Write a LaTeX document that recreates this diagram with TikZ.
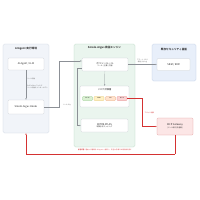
\documentclass[tikz,border=0pt]{standalone}
\usepackage{fontspec}
\setmainfont{Noto Sans CJK JP}[BoldFont={Noto Sans CJK JP Bold}]
\usetikzlibrary{arrows.meta, calc, positioning}
\definecolor{envFill}{RGB}{241,244,249}
\definecolor{envLine}{RGB}{200,208,220}
\definecolor{engFill}{RGB}{234,245,238}
\definecolor{engLine}{RGB}{176,212,188}
\definecolor{secFill}{RGB}{232,239,250}
\definecolor{secLine}{RGB}{182,198,224}
\definecolor{boxLine}{RGB}{200,204,210}
\definecolor{gwFill}{RGB}{252,230,230}
\definecolor{gwLine}{RGB}{226,150,150}
\definecolor{lineGray}{RGB}{140,144,150}
\definecolor{alertRed}{RGB}{212,50,50}
\definecolor{chipGreenF}{RGB}{218,240,210}
\definecolor{chipGreenD}{RGB}{140,196,130}
\definecolor{chipYellowF}{RGB}{255,240,196}
\definecolor{chipYellowD}{RGB}{222,190,90}
\definecolor{chipOrangeF}{RGB}{255,226,204}
\definecolor{chipOrangeD}{RGB}{230,160,110}
\definecolor{chipPinkF}{RGB}{250,210,210}
\definecolor{chipPinkD}{RGB}{222,120,120}

\begin{document}
\begin{tikzpicture}[x=1mm, y=-1mm,
    panel/.style={rounded corners=1.5mm, line width=0.7pt},
    box/.style={draw=boxLine, fill=white, rounded corners=1mm, line width=0.7pt,
        align=center, text=black!85, font=\fontsize{7}{8.5}\selectfont},
    title/.style={text=black!85, font=\fontsize{7.5}{9}\selectfont\bfseries},
    note/.style={text=black!65, align=left, font=\fontsize{4.5}{5.5}\selectfont},
    chip/.style={rounded corners=0.8mm, line width=0.6pt, minimum width=10mm,
        minimum height=4mm, inner sep=0pt, font=\fontsize{3.5}{4}\selectfont},
    flow/.style={draw=lineGray, line width=0.6pt, -{Latex[length=1.6mm,width=1.3mm]}},
    redflow/.style={draw=alertRed, line width=0.6pt, -{Latex[length=1.6mm,width=1.3mm]}}]
    \useasboundingbox (0,0) rectangle (200,200);

    % AI Agent 実行環境 (左)
    \node[panel, fill=envFill, draw=envLine, minimum width=46mm, minimum height=89mm] (agentenv) at (26,88.5) {};
    \node[title] (agenttitle) at (26,48.5) {AI Agent 実行環境};
    \node[box, minimum width=36mm, minimum height=12mm] (agent) at (26,64) {AI Agent / LLM};
    \node[box, minimum width=36mm, minimum height=14mm] (hooks) at (26,107) {Smolo-Argus Hooks};
    \draw[flow] (agent) -- (hooks)
        node[note, pos=0.28, right] {ツール呼出}
        node[note, pos=0.55, right] {PreToolUse フックで\\ツール呼出をインターセプト};

    % 検証エンジン (中央)
    \node[panel, fill=engFill, draw=engLine, minimum width=61mm, minimum height=103mm] (engine) at (104.5,95.5) {};
    \node[title] (enginetitle) at (104.5,48) {Smolo-Argus 検証エンジン};
    \node[box, minimum width=46mm, minimum height=13mm] (policy) at (105,64.5)
        {ポリシールール\\[-1pt]{\fontsize{5}{6}\selectfont ツール / 引数 / 文脈}};
    \node[box, minimum width=49mm, minimum height=21mm] (risk) at (104.5,96.5) {};
    \node[text=black!85, font=\fontsize{6.5}{8}\selectfont] (risktitle) at (104.5,90) {リスク評価層};
    \foreach \name/\px/\txt/\fc/\dc in {allow/87.5/ALLOW/chipGreenF/chipGreenD,
        warn/99/WARN/chipYellowF/chipYellowD, ask/110.5/ASK/chipOrangeF/chipOrangeD,
        block/122/BLOCK/chipPinkF/chipPinkD}
        \node[chip, fill=\fc, draw=\dc] (chip\name) at (\px,98.5) {\txt};
    \node[box, minimum width=47mm, minimum height=13mm] (atlas) at (104.5,125.5)
        {MITRE ATLAS\\[-1pt]{\fontsize{5}{6}\selectfont 攻撃手法マッピング}};
    \draw[flow] (policy) -- (risk);

    % フック → ポリシー
    \coordinate (hookturn) at (59,61);
    \draw[flow] (hooks.east) -| (hookturn) -- (hookturn -| policy.west);
    \node[note] (inlabel) at (67,105) {ツール入力};
    % ポリシー → ATLAS
    \draw[flow] ($(policy.south west)+(0,-3)$) -- ++(-5,0) |- (atlas.west);

    % 既存セキュリティ基盤 (右上)
    \node[panel, fill=secFill, draw=secLine, minimum width=44mm, minimum height=37mm] (secenv) at (174,62.5) {};
    \node[title] (sectitle) at (174,50) {既存セキュリティ基盤};
    \node[box, minimum width=33mm, minimum height=12mm] (siem) at (173.5,64.5) {SIEM / EDR};
    \draw[flow] (policy.east) -- (siem.west)
        node[note, midway, above, align=center] {アラート / ログ\\転送 (Syslog)};

    % MCP Gateway (右下)
    \node[box, fill=gwFill, draw=gwLine, minimum width=36mm, minimum height=17mm] (gateway) at (175,126.5)
        {MCP Gateway\\[-1pt]{\fontsize{5}{6}\selectfont (ツール実行を遮断)}};
    \coordinate (redturn) at (142,98.5);
    \draw[redflow] (chipblock.east) -- (redturn) |- (gateway.west);
    \node[note, text=alertRed, anchor=west] (blocklabel) at (143.5,113) {ブロック通知};

    % 拒否フィードバック (破線)
    \coordinate (fbright) at (gateway.south |- 0,154);
    \coordinate (fbleft) at (agentenv.south |- 0,154);
    \draw[redflow, dash pattern=on 1.5pt off 1.2pt] (gateway.south) -- (fbright) -- (fbleft) -- (agentenv.south);
    \node[text=alertRed, font=\fontsize{4.5}{5.5}\selectfont] (fblabel) at (105,150.5)
        {\textbf{拒否応答:} 理由と代替案を AI Agent へ返却し、安全な手順での再計画を促す};
\end{tikzpicture}
\end{document}
